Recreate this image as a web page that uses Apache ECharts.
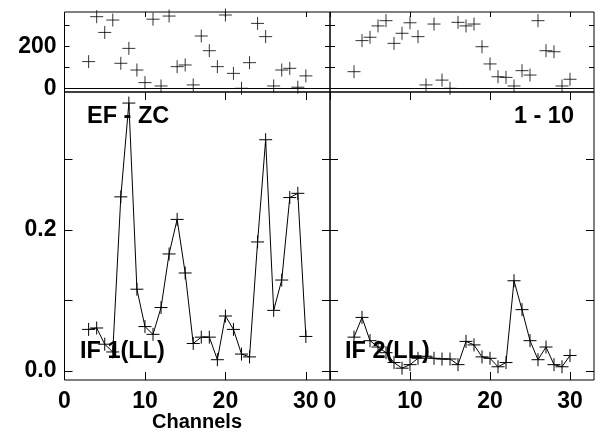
<!DOCTYPE html>
<html><head><meta charset="utf-8">
<script src="https://cdn.jsdelivr.net/npm/echarts@6/dist/echarts.min.js"></script>
<style>html,body{margin:0;padding:0;background:#fff}#c{width:595px;height:434px}</style>
</head><body><div id="c"></div>
<script>
const channels = [3,4,5,6,7,8,9,10,11,12,13,14,15,16,17,18,19,20,21,22,23,24,25,26,27,28,29,30];
const topLeftCounts = [128,342,267,326,120,191,88,28,330,12,345,104,112,17,250,180,104,350,72,1,123,310,247,12,88,96,6,60];
const topRightCounts = [80,228,244,298,323,215,263,313,247,17,307,40,1,315,298,307,199,117,56,53,12,85,64,323,180,175,12,44];
const if1Values = [0.059,0.061,0.038,0.027,0.247,0.380,0.116,0.063,0.052,0.090,0.166,0.215,0.139,0.039,0.048,0.048,0.016,0.078,0.059,0.024,0.020,0.183,0.328,0.086,0.129,0.246,0.252,0.049];
const if2Values = [0.048,0.076,0.043,0.034,0.026,0.012,0.004,0.009,0.018,0.021,0.018,0.017,0.017,0.009,0.042,0.037,0.020,0.018,0.006,0.012,0.128,0.087,0.043,0.016,0.034,0.009,0.006,0.022];
const xTicks = [0,10,20,30];
const countTicks = [0,100,200,300];
const countLabels = [0,200];
const effTicks = [0,0.1,0.2,0.3];
const effLabels = [0,0.2];
const panelTexts = ['EF - ZC','1 - 10','IF 1(LL)','IF 2(LL)'];
const xTitle = 'Channels';

const FONT = 'Liberation Sans';
const labelStyle = {color:'#000', fontFamily:FONT, fontWeight:'bold', fontSize:23};
const plus = 'path://M0,6L12,6M6,0L6,12';

const grids = [
  {left:64.5, top:12, width:265.5, height:80},
  {left:330, top:12, width:264, height:80},
  {left:64.5, top:92, width:265.5, height:288},
  {left:330, top:92, width:264, height:288}
].map(g => Object.assign({show:true, borderColor:'#000', borderWidth:1, backgroundColor:'transparent'}, g));

// ticks drawn pointing outward from an axis shifted inward by the tick length,
// so they end up on the inside of each frame edge
const xAxes = [], yAxes = [];
for (let i = 0; i < 4; i++) {
  const isTop = i < 2;
  const tlen = isTop ? 5 : 8;
  xAxes.push({type:'value', gridIndex:i, min:0, max:33, position:'bottom', offset:-8,
    axisLine:{show:false, onZero:false}, splitLine:{show:false},
    axisTick:{show:!isTop, length:8, customValues:xTicks, lineStyle:{color:'#000'}},
    axisLabel:{show:!isTop, customValues:xTicks, margin:18, ...labelStyle}});
  xAxes.push({type:'value', gridIndex:i, min:0, max:33, position:'top', offset:-tlen,
    axisLine:{show:false, onZero:false}, splitLine:{show:false},
    axisTick:{show:true, length:tlen, customValues:xTicks, lineStyle:{color:'#000'}},
    axisLabel:{show:false}});
  const ymin = isTop ? -16.7 : -0.01277;
  const ymax = isTop ? 364.3 : 0.3957;
  const tv = isTop ? countTicks : effTicks;
  const lv = isTop ? countLabels : effLabels;
  const left = (i % 2 === 0);
  yAxes.push({type:'value', gridIndex:i, min:ymin, max:ymax, position:'left', offset:-tlen,
    axisLine:{show:false, onZero:false}, splitLine:{show:false},
    axisTick:{show:true, length:tlen, customValues:tv, lineStyle:{color:'#000'}},
    axisLabel:{show:left, customValues:lv, margin:8 + tlen,
      formatter: v => isTop ? String(v) : v.toFixed(1), ...labelStyle}});
  yAxes.push({type:'value', gridIndex:i, min:ymin, max:ymax, position:'right', offset:-tlen,
    axisLine:{show:false, onZero:false}, splitLine:{show:false},
    axisTick:{show:true, length:tlen, customValues:tv, lineStyle:{color:'#000'}},
    axisLabel:{show:false}});
}

const pairs = arr => channels.map((c, k) => [c, arr[k]]);
const markStyle = {color:'#000', borderColor:'#000', borderWidth:1};
const zeroLine = {silent:true, symbol:'none', label:{show:false},
  lineStyle:{color:'#000', width:1, type:'solid'}, data:[{yAxis:0}]};

const series = [
  {type:'scatter', xAxisIndex:0, yAxisIndex:0, data:pairs(topLeftCounts), symbol:plus, symbolSize:13, itemStyle:markStyle, markLine:zeroLine},
  {type:'scatter', xAxisIndex:2, yAxisIndex:2, data:pairs(topRightCounts), symbol:plus, symbolSize:13, itemStyle:markStyle, markLine:zeroLine},
  {type:'line', xAxisIndex:4, yAxisIndex:4, data:pairs(if1Values), symbol:plus, symbolSize:13, showAllSymbol:true, itemStyle:markStyle, lineStyle:{color:'#000', width:1}},
  {type:'line', xAxisIndex:6, yAxisIndex:6, data:pairs(if2Values), symbol:plus, symbolSize:13, showAllSymbol:true, itemStyle:markStyle, lineStyle:{color:'#000', width:1}}
];

const txt = (t, x, y, align) => ({type:'text', x, y, z:100, style:{text:t, fill:'#000',
  font:'bold 23.5px "Liberation Sans"', textAlign:align, textVerticalAlign:'middle'}});

const chart = echarts.init(document.getElementById('c'), null, {renderer:'canvas'});
chart.setOption({
  animation:false,
  backgroundColor:'#fff',
  grid:grids, xAxis:xAxes, yAxis:yAxes, series,
  graphic:[
    txt(panelTexts[0], 87, 117, 'left'),
    txt(panelTexts[1], 574, 117, 'right'),
    txt(panelTexts[2], 80, 352, 'left'),
    txt(panelTexts[3], 345, 352, 'left'),
    {type:'text', x:197, y:422, z:100, style:{text:xTitle, fill:'#000',
      font:'bold 20px "Liberation Sans"', textAlign:'center', textVerticalAlign:'middle'}}
  ]
});
</script></body></html>
